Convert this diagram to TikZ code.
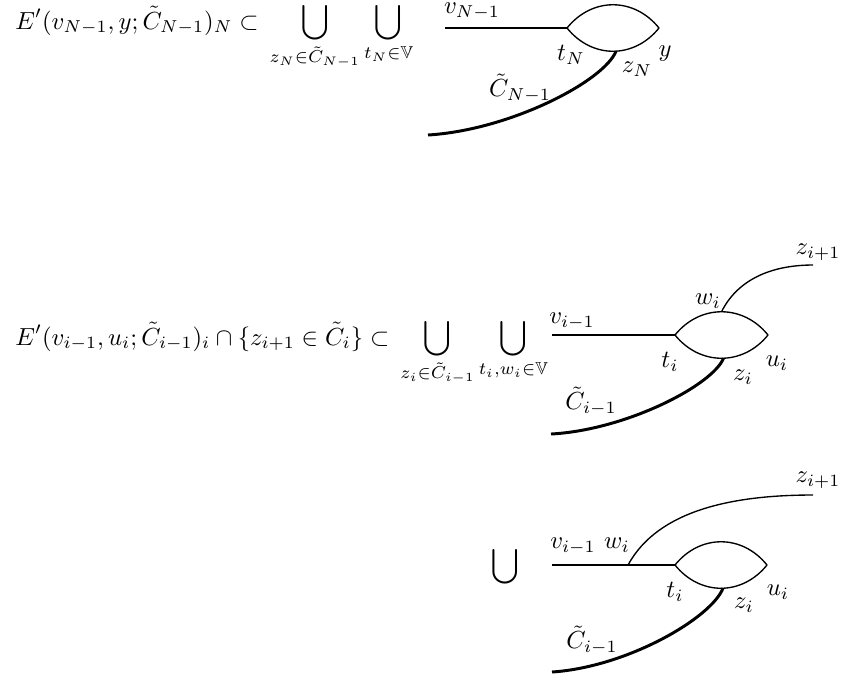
\documentclass[tikz,border=0pt]{standalone}
\usepackage{amsmath,amssymb}
\begin{document}
\begin{tikzpicture}[x=0.405pt,y=-0.405pt,
  thinline/.style={line width=0.55pt},
  thickline/.style={line width=1.2pt},
  lbl/.style={inner sep=0pt,anchor=center}]
\useasboundingbox (0,0) rectangle (844,679);
% ---------- top ----------
\node[inner sep=0pt,anchor=base west] (f1) at (15,29)
  {$\displaystyle E'(v_{N-1},y;\tilde C_{N-1})_N\subset\,\bigcup_{z_N\in\tilde C_{N-1}}\bigcup_{t_N\in\mathbb{V}}$};
\coordinate (a0) at (445,28);
\coordinate (aL) at (567,28);
\coordinate (aR) at (659,28);
\coordinate (aC) at (428,135);
\draw[thinline] (a0) -- (aL);
\draw[thinline] (aL) .. controls +(25,-31) and +(-25,-31) .. (aR);
\draw[thinline] (aL) .. controls +(25,31) and +(-25,31) .. coordinate[pos=0.53] (aZ) (aR);
\draw[thickline] (aZ) .. controls +(-12,30) and +(82,-5) .. (aC);
\node[lbl] (lv1) at (472,11) {$v_{N-1}$};
\node[lbl] (lt1) at (571,55) {$t_N$};
\node[lbl] (lz1) at (637,69) {$z_N$};
\node[lbl] (ly1) at (665,54) {$y$};
\node[lbl] (lc1) at (520,88) {$\tilde C_{N-1}$};
% ---------- middle ----------
\node[inner sep=0pt,anchor=base west] (f2) at (15,345)
  {$\displaystyle E'(v_{i-1},u_i;\tilde C_{i-1})_i\cap\{z_{i+1}\in\tilde C_i\}\subset\,\bigcup_{z_i\in\tilde C_{i-1}}\bigcup_{t_i,w_i\in\mathbb{V}}$};
\coordinate (b0) at (552,335);
\coordinate (bL) at (675,335);
\coordinate (bR) at (768,335);
\coordinate (bE) at (813,265);
\coordinate (bC) at (551,434);
\draw[thinline] (b0) -- (bL);
\draw[thinline] (bL) .. controls +(25,-31) and +(-25,-31) .. coordinate[pos=0.5] (bW) (bR);
\draw[thinline] (bL) .. controls +(25,31) and +(-25,31) .. coordinate[pos=0.52] (bZ) (bR);
\draw[thinline] (bW) .. controls +(15,-30) and +(-45,0) .. (bE);
\draw[thickline] (bZ) .. controls +(-11,27) and +(75,-4) .. (bC);
\node[lbl] (lz2b) at (818,252) {$z_{i+1}$};
\node[lbl] (lw2) at (708,301) {$w_i$};
\node[lbl] (lv2) at (572,321) {$v_{i-1}$};
\node[lbl] (lt2) at (670,362) {$t_i$};
\node[lbl] (lu2) at (777,363) {$u_i$};
\node[lbl] (lz2) at (743,377) {$z_i$};
\node[lbl] (lc2) at (591,401) {$\tilde C_{i-1}$};
% ---------- bottom ----------
\node[inner sep=0pt] (cup3) at (505,567) {$\displaystyle\bigcup$};
\coordinate (c0) at (552,565);
\coordinate (cW) at (628,565);
\coordinate (cL) at (675,565);
\coordinate (cR) at (767,565);
\coordinate (cE) at (813,495);
\coordinate (cC) at (552,672);
\draw[thinline] (c0) -- (cL);
\draw[thinline] (cL) .. controls +(25,-31) and +(-25,-31) .. (cR);
\draw[thinline] (cL) .. controls +(25,31) and +(-25,31) .. coordinate[pos=0.52] (cZ) (cR);
\draw[thinline] (cW) .. controls +(30,-55) and +(-80,0) .. (cE);
\draw[thickline] (cZ) .. controls +(-12,30) and +(75,-5) .. (cC);
\node[lbl] (lz3b) at (818,480) {$z_{i+1}$};
\node[lbl] (lv3) at (573,546) {$v_{i-1}$};
\node[lbl] (lw3) at (617,545) {$w_i$};
\node[lbl] (lt3) at (675,592) {$t_i$};
\node[lbl] (lz3) at (744,605) {$z_i$};
\node[lbl] (lu3) at (778,592) {$u_i$};
\node[lbl] (lc3) at (592,640) {$\tilde C_{i-1}$};
\end{tikzpicture}
\end{document}
